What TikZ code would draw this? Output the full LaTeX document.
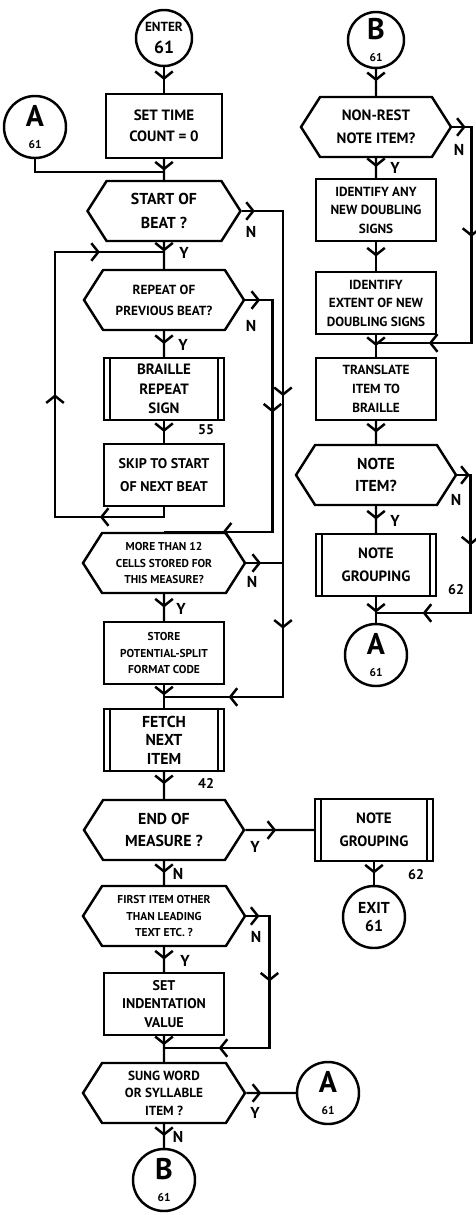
\documentclass[tikz,border=0pt]{standalone}
\usepackage{fontspec}
\setmainfont{PT Sans}
\usetikzlibrary{shapes.symbols, arrows.meta, decorations.markings}
\newcommand{\connlbl}[2]{{\fontsize{17}{17}\selectfont #1}\\[1.5pt]{\fontsize{6.5}{6.5}\selectfont #2}}

\begin{document}
\begin{tikzpicture}[x=0.2mm, y=-0.2mm, line width=1.4pt,
    font=\bfseries\fontsize{8}{11.5}\selectfont,
    txt/.style args={#1/#2}{font=\bfseries\fontsize{#1}{#2}\selectfont},
    proc/.style={draw, rectangle, align=center, inner sep=1pt, minimum width=2.4cm, minimum height=1.24cm},
    predef/.style={proc, path picture={
        \draw ([xshift=3.5pt]path picture bounding box.north west) -- ([xshift=3.5pt]path picture bounding box.south west)
              ([xshift=-3.5pt]path picture bounding box.north east) -- ([xshift=-3.5pt]path picture bounding box.south east);}},
    decision/.style={draw, signal, signal to=east and west, signal pointer angle=115, align=center, inner sep=1pt, minimum width=3.2cm, minimum height=1.2cm},
    connector/.style={draw, circle, align=center, inner sep=0pt, minimum size=1.24cm},
    yn/.style={txt=9/9, inner sep=0pt},
    subno/.style={txt=8/8, inner sep=0pt},
    tipat/.style={postaction={decorate, decoration={markings, mark=at position #1 with {\arrow{Straight Barb[length=4pt, width=10pt]}}}}}
  ]
  \useasboundingbox (0,0) rectangle (475,1215);

  % main column
  \node[connector, minimum size=1.12cm] (enter) at (164,38) {{\fontsize{7.5}{7.5}\selectfont ENTER}\\[1pt]{\fontsize{10}{10}\selectfont 61}};
  \node[proc, txt=8.5/12, minimum width=2.32cm, minimum height=1.28cm] (settime) at (164,126) {SET TIME\\COUNT = 0};
  \node[connector] (ain) at (35,127) {\connlbl{A}{61}};
  \node[decision, txt=9/14, minimum width=3.06cm] (beat) at (164,211) {START OF\\BEAT ?};
  \node[decision, txt=7.5/12] (repeat) at (164,300) {REPEAT OF\\PREVIOUS BEAT?};
  \node[predef, txt=8.5/11] (brep) at (164,389) {BRAILLE\\REPEAT\\SIGN};
  \node[proc, txt=8/13] (skip) at (164,475) {SKIP TO START\\OF NEXT BEAT};
  \node[decision, txt=6.5/9.5, minimum width=3.24cm] (more) at (164,563) {MORE THAN 12\\CELLS STORED FOR\\THIS MEASURE?};
  \node[proc, txt=6.5/9.5] (store) at (164,653) {STORE\\POTENTIAL-SPLIT\\FORMAT CODE};
  \node[predef, txt=9/10.5] (fetch) at (164,740) {FETCH\\NEXT\\ITEM};
  \node[decision, txt=9/13] (endm) at (164,830) {END OF\\MEASURE ?};
  \node[decision, txt=6.5/9.5, minimum width=3.24cm] (first) at (164,916) {FIRST ITEM OTHER\\THAN LEADING\\TEXT ETC. ?};
  \node[proc, txt=8/10.5] (setind) at (164,1004) {SET\\INDENTATION\\VALUE};
  \node[decision, txt=7.5/10, minimum width=3.24cm] (sung) at (164,1093) {SUNG WORD\\OR SYLLABLE\\ITEM ?};
  \node[connector] (bout) at (164,1180) {\connlbl{B}{61}};
  \node[connector] (aout) at (328,1093) {\connlbl{A}{61}};

  % second column
  \node[connector, minimum size=1.12cm] (bin) at (376,40) {\connlbl{B}{61}};
  \node[decision, txt=8.5/13, minimum width=3cm] (nonrest) at (376,127) {NON-REST\\NOTE ITEM?};
  \node[proc, txt=7.5/10.5] (identany) at (376,210) {IDENTIFY ANY\\NEW DOUBLING\\SIGNS};
  \node[proc, txt=7.5/10.5] (identext) at (376,303) {IDENTIFY\\EXTENT OF NEW\\DOUBLING SIGNS};
  \node[proc, txt=7.5/11] (translate) at (376,389) {TRANSLATE\\ITEM TO\\BRAILLE};
  \node[decision, txt=9/13] (noteitem) at (376,475) {NOTE\\ITEM?};
  \node[predef, txt=8.5/13] (group) at (376,565) {NOTE\\GROUPING};
  \node[connector] (aright) at (376,655) {\connlbl{A}{61}};
  \node[predef, txt=8.5/13, minimum width=2.36cm] (groupend) at (374,830) {NOTE\\GROUPING};
  \node[connector, txt=9/10] (exit) at (374,917) {EXIT\\61};

  % junctions
  \coordinate (ajoin) at (164,172);
  \coordinate (loopin) at (164,252);
  \coordinate (loopout) at (164,517);
  \coordinate (loopcorner) at (55,517);
  \coordinate (skipbus) at (283,697);
  \coordinate (fetchin) at (164,697);
  \coordinate (sungin) at (164,1048);
  \coordinate (transin) at (376,343);
  \coordinate (groupout) at (376,613);

  % flow lines
  \draw[tipat=0.5] (enter) -- (settime);
  \draw[tipat=0.55] (settime) -- (beat);
  \draw (ain.south) |- (ajoin);
  \draw[tipat=0.35] (beat) -- (repeat);
  \draw[tipat=0.5] (repeat) -- (brep);
  \draw[tipat=0.5] (brep) -- (skip);
  \draw[tipat=0.15, tipat=0.49, tipat=0.87] (skip) -- (loopout) -- (loopcorner) |- (loopin);
  \draw[tipat=0.04, tipat=0.38, tipat=0.84] (repeat.east) -- ++(27,0) |- (more.north);
  \draw[tipat=0.02, tipat=0.35, tipat=0.71, tipat=0.9] (beat.east) -- (beat.east -| skipbus) -- (skipbus) -- (fetchin);
  \draw[tipat=0.4] (more.east) -- (more.east -| skipbus);
  \draw[tipat=0.5] (more) -- (store);
  \draw[tipat=0.45] (store) -- (fetch);
  \draw[tipat=0.45] (fetch) -- (endm);
  \draw[tipat=0.45] (endm) -- (groupend);
  \draw[tipat=0.5] (endm) -- (first);
  \draw[tipat=0.5] (first) -- (setind);
  \draw[tipat=0.05, tipat=0.34, tipat=0.79] (first.east) -- ++(23,0) |- (sungin);
  \draw[tipat=0.35] (setind) -- (sung);
  \draw[tipat=0.3] (sung) -- (aout);
  \draw[tipat=0.5] (sung) -- (bout);

  \draw[tipat=0.45] (bin) -- (nonrest);
  \draw[tipat=0.45] (nonrest) -- (identany);
  \draw[tipat=0.04, tipat=0.39, tipat=0.84] (nonrest.east) -- ++(19,0) |- (transin);
  \draw[tipat=0.5] (identany) -- (identext);
  \draw[tipat=0.5] (identext) -- (translate);
  \draw[tipat=0.5] (translate) -- (noteitem);
  \draw[tipat=0.5] (noteitem) -- (group);
  \draw[tipat=0.05, tipat=0.34, tipat=0.81] (noteitem.east) -- ++(13,0) |- (groupout);
  \draw[tipat=0.6] (group) -- (aright);
  \draw[tipat=0.5] (groupend) -- (exit);

  % branch letters and page numbers
  \node[yn] (beaty) at (184,253) {Y};
  \node[yn] (beatn) at (251,232) {N};
  \node[yn] (repeaty) at (183,345) {Y};
  \node[yn] (repeatn) at (251,326) {N};
  \node[yn] (morey) at (181,609) {Y};
  \node[yn] (moren) at (252,582) {N};
  \node[yn] (endmy) at (255,847) {Y};
  \node[yn] (endmn) at (178,874) {N};
  \node[yn] (firstn) at (256,937) {N};
  \node[yn] (firsty) at (185,961) {Y};
  \node[yn] (sungy) at (255,1113) {Y};
  \node[yn] (sungn) at (178,1137) {N};
  \node[yn] (nonresty) at (395,168) {Y};
  \node[yn] (nonrestn) at (459,150) {N};
  \node[yn] (noteitemy) at (395,521) {Y};
  \node[yn] (noteitemn) at (456,500) {N};
  \node[subno] (brepno) at (206,430) {55};
  \node[subno] (fetchno) at (206,783) {42};
  \node[subno] (groupno) at (456,590) {62};
  \node[subno] (groupendno) at (416,875) {62};
\end{tikzpicture}
\end{document}
